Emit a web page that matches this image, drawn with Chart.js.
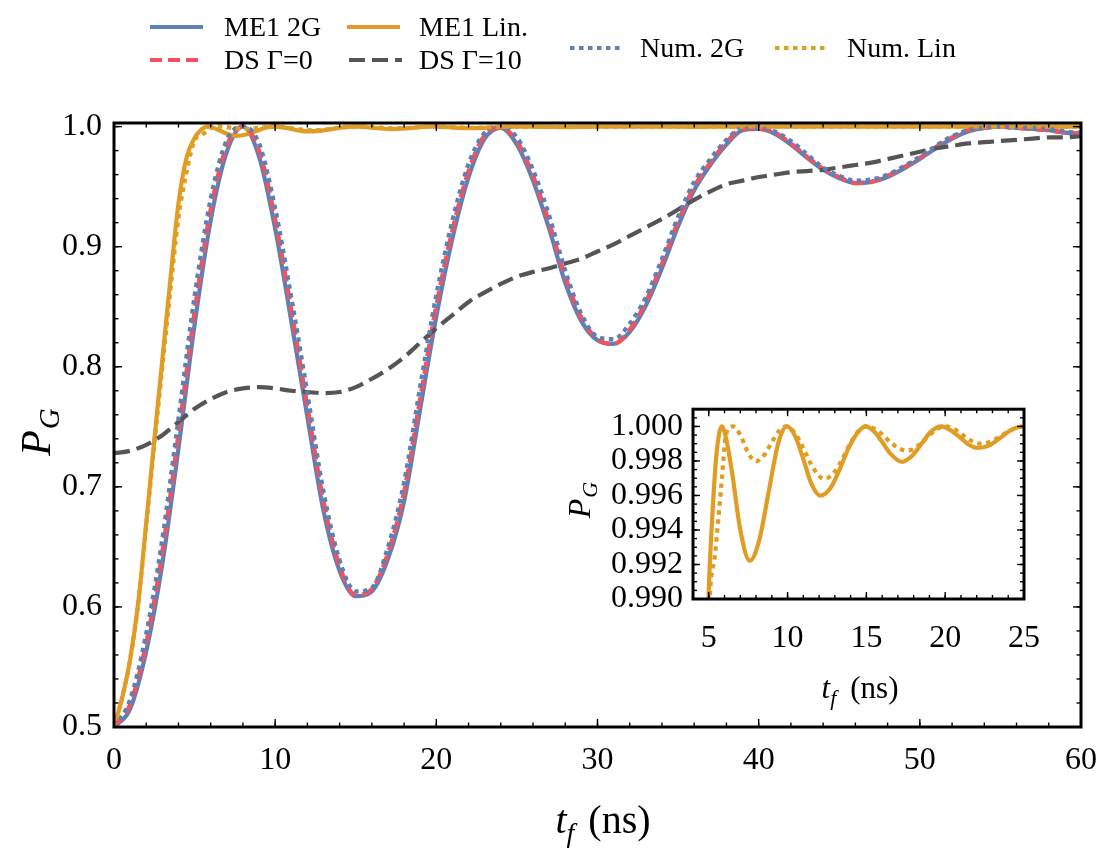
<!DOCTYPE html>
<html>
<head>
<meta charset="utf-8">
<script src="https://cdn.jsdelivr.net/npm/chart.js@4.4.1/dist/chart.umd.min.js"></script>
<style>
  html, body { margin: 0; padding: 0; background: #fff; }
  #wrap { position: relative; width: 1111px; height: 850px; }
  #main { position: absolute; left: 0; top: 0; }
  #inset { position: absolute; left: 560px; top: 380px; }
</style>
</head>
<body>
<div id="wrap">
  <canvas id="main" width="1111" height="850"></canvas>
  <canvas id="inset" width="500" height="340"></canvas>
</div>
<script>
// t_f (ns) sample points for the two-level / DS curves
const tMain = [0,1,2,3,4,5,6,7,8,9,10,11,12,13,14,15,16,17,18,19,20,21,22,23,24,25,26,27,28,29,30,
  31,32,33,34,35,36,37,38,39,40,41,42,43,44,45,46,47,48,49,50,51,52,53,54,55,56,57,58,59,60];

const me1TwoLevel = [0.500,0.515,0.563,0.636,0.732,0.835,0.922,0.979,1.000,0.975,
  0.915,0.838,0.758,0.680,0.630,0.609,0.613,0.640,0.688,0.765,
  0.842,0.907,0.958,0.990,0.999,0.985,0.955,0.915,0.870,0.838,
  0.822,0.819,0.829,0.851,0.882,0.917,0.947,0.968,0.985,0.997,
  0.998,0.994,0.985,0.974,0.964,0.957,0.953,0.954,0.958,0.965,
  0.973,0.982,0.990,0.996,0.999,1.000,0.999,0.998,0.997,0.995,0.994];

const dsGamma0 = [0.500,0.519,0.570,0.646,0.744,0.846,0.931,0.984,1.000,0.980,
  0.923,0.847,0.767,0.688,0.634,0.610,0.615,0.645,0.696,0.774,
  0.851,0.914,0.963,0.993,0.999,0.988,0.959,0.920,0.875,0.841,
  0.823,0.819,0.831,0.854,0.886,0.921,0.950,0.970,0.987,0.998,
  0.998,0.995,0.986,0.975,0.965,0.958,0.953,0.954,0.959,0.966,
  0.974,0.983,0.991,0.997,0.999,1.000,0.999,0.998,0.997,0.995,0.994];

const dsGamma10 = [0.728,0.730,0.735,0.743,0.754,0.765,0.773,0.779,0.782,0.783,
  0.782,0.780,0.779,0.778,0.779,0.783,0.790,0.798,0.808,0.820,
  0.832,0.843,0.854,0.862,0.869,0.875,0.879,0.882,0.886,0.890,
  0.896,0.902,0.909,0.916,0.923,0.931,0.939,0.946,0.952,0.955,
  0.958,0.960,0.962,0.963,0.964,0.966,0.968,0.970,0.973,0.976,
  0.979,0.982,0.984,0.986,0.987,0.988,0.989,0.990,0.991,0.991,0.992];

const numTwoLevel = [0.500,0.523,0.578,0.657,0.757,0.859,0.940,0.989,1.000,0.986,
  0.932,0.858,0.778,0.696,0.639,0.613,0.616,0.650,0.704,0.784,
  0.860,0.922,0.969,0.995,1.000,0.991,0.964,0.926,0.880,0.844,
  0.825,0.823,0.836,0.858,0.890,0.925,0.954,0.973,0.989,0.999,
  0.999,0.996,0.988,0.977,0.966,0.959,0.955,0.956,0.960,0.967,
  0.975,0.984,0.992,0.997,0.999,1.000,0.999,0.999,0.998,0.996,0.995];

// linear-ramp curves have their own (finer) sampling
const tLin = [0,0.5,1,1.5,2,2.5,3,3.5,4,4.5,5,5.25,5.5,5.83,6.1,6.5,7,7.6,8.2,8.8,
  9.4,9.96,10.5,11,11.5,12.08,12.7,13.3,13.9,14.5,14.96,15.5,16,16.5,17.25,17.9,18.5,19.1,19.75,20.3,
  20.9,21.5,22.1,22.8,23.5,24.2,25,26,27,28,29,30,32,34,36,38,40,42,44,46,48,50,52,54,56,58,60];
const me1Linear = [0.500,0.524,0.556,0.603,0.670,0.739,0.806,0.873,0.936,0.974,
  0.9905,0.9952,0.9985,1.0000,0.9993,0.9972,0.9940,0.99222,0.9934,0.9962,
  0.9990,1.0000,0.9994,0.9981,0.9967,0.99599,0.9964,0.9975,0.9988,0.9997,
  1.0000,0.9997,0.9991,0.99845,0.99795,0.9983,0.9990,0.9997,1.0000,0.9998,
  0.9994,0.99894,0.99875,0.9989,0.99934,0.9998,1.0000,0.9999,0.9997,0.9996,
  0.9997,0.9999,1.0000,0.9999,0.9998,0.9999,1.0000,1.0000,0.9999,0.9999,
  1.0000,1.0000,1.0000,0.9999,1.0000,1.0000,1.0000];

const tNumLin = [0,0.5,1,1.5,2,2.5,3,3.5,4,4.5,5,5.4,5.8,6.1,6.52,7,7.5,7.98,8.5,9,
  9.5,9.9,10.5,11,11.5,12,12.36,13,13.5,14,14.5,15,15.5,16,16.5,17,17.56,18,18.5,19,
  19.5,20,20.5,21,21.5,22.25,23,23.5,24,24.5,25,26,27,28,30,32,34,36,38,40,44,48,52,56,60];
const numLinear = [0.500,0.524,0.556,0.603,0.668,0.735,0.800,0.864,0.924,0.962,
  0.9885,0.9926,0.9966,0.99955,1.0000,0.99951,0.99847,0.99798,0.99832,0.99909,
  0.99979,1.0000,0.99958,0.99873,0.99780,0.99713,0.99697,0.99739,0.99816,0.99905,
  0.99974,1.0000,0.99987,0.99954,0.99911,0.99876,0.99860,0.99871,0.99905,0.99950,
  0.99986,1.0000,0.99988,0.99959,0.99925,0.99900,0.99917,0.99943,0.99971,0.99992,
  1.0000,0.9999,0.9998,0.9998,0.9999,1.0000,1.0000,1.0000,1.0000,1.0000,
  1.0000,1.0000,1.0000,1.0000,1.0000];

const seriesNames = ['ME1 2G', 'ME1 Lin.', 'DS Γ=0', 'DS Γ=10', 'Num. 2G', 'Num. Lin'];

const mainXTicks = [0, 10, 20, 30, 40, 50, 60];
const mainYTicks = [0.5, 0.6, 0.7, 0.8, 0.9, 1.0];
const insetXTicks = [5, 10, 15, 20, 25];
const insetYTicks = [0.990, 0.992, 0.994, 0.996, 0.998, 1.000];

const BLUE = '#5e81b5', ORANGE = '#e19c24', RED = '#f9515a', GRAY = '#555555';
const FONT = '"Liberation Serif", "DejaVu Serif", serif';
const LW = 4.2;

const pts = (ts, ps) => ts.map((t, i) => ({ x: t, y: ps[i] }));

const line = (label, data, color, dash, order) => ({
  label, data,
  borderColor: color, borderDash: dash, borderWidth: LW, borderCapStyle: 'butt',
  pointRadius: 0, fill: false, cubicInterpolationMode: 'monotone', order, clip: 0
});

// frame with inward major/minor ticks on all four sides (Mathematica style)
const framePlugin = (cfg) => ({
  id: 'frame',
  afterDraw(chart) {
    const { ctx, chartArea: a, scales: { x, y } } = chart;
    ctx.save();
    ctx.strokeStyle = '#000';
    ctx.lineWidth = 1.4;
    const seg = (x1, y1, x2, y2) => { ctx.beginPath(); ctx.moveTo(x1, y1); ctx.lineTo(x2, y2); ctx.stroke(); };
    const steps = (s, step) => {
      const out = [];
      for (let k = Math.ceil(s.min / step - 1e-6); k * step <= s.max + 1e-9; k++) out.push(k * step);
      return out;
    };
    steps(x, cfg.xMinor).forEach(v => {
      const px = x.getPixelForValue(v);
      seg(px, a.bottom, px, a.bottom - cfg.minor);
      seg(px, a.top, px, a.top + cfg.minor);
    });
    steps(y, cfg.yMinor).forEach(v => {
      const py = y.getPixelForValue(v);
      seg(a.left, py, a.left + cfg.minor, py);
      seg(a.right, py, a.right - cfg.minor, py);
    });
    x.ticks.forEach(t => {
      const px = x.getPixelForValue(t.value);
      seg(px, a.bottom, px, a.bottom - cfg.major);
      seg(px, a.top, px, a.top + cfg.major);
    });
    y.ticks.forEach(t => {
      const py = y.getPixelForValue(t.value);
      seg(a.left, py, a.left + cfg.major, py);
      seg(a.right, py, a.right - cfg.major, py);
    });
    ctx.lineWidth = 3;
    ctx.strokeRect(a.left, a.top, a.right - a.left, a.bottom - a.top);
    ctx.restore();
  }
});

// text with italic symbol + subscript, e.g. P_G or t_f (ns)
function mathText(ctx, parts, cx, cy, size, rot) {
  ctx.save();
  ctx.translate(cx, cy);
  ctx.rotate(rot || 0);
  ctx.fillStyle = '#000';
  ctx.textBaseline = 'alphabetic';
  const fontOf = p => `${p.italic ? 'italic ' : ''}${p.sub ? Math.round(size * 0.7) : size}px ${FONT}`;
  let w = 0;
  parts.forEach(p => { ctx.font = fontOf(p); w += ctx.measureText(p.text).width + (p.gap || 0); });
  let px = -w / 2;
  parts.forEach(p => {
    ctx.font = fontOf(p);
    ctx.fillText(p.text, px, size * 0.33 + (p.sub ? size * 0.22 : 0));
    px += ctx.measureText(p.text).width + (p.gap || 0);
  });
  ctx.restore();
}

const tfLabel = [{ text: 't', italic: true }, { text: 'f', italic: true, sub: true, gap: 14 }, { text: '(ns)' }];
const pgLabel = [{ text: 'P', italic: true, gap: 1 }, { text: 'G', italic: true, sub: true }];

// legend slots: sample start x, row y, text x (same order as seriesNames)
const legendSlots = [
  { x: 150, y: 27, tx: 224 },
  { x: 347, y: 27, tx: 419 },
  { x: 150, y: 60, tx: 224 },
  { x: 349, y: 60, tx: 419 },
  { x: 570, y: 48, tx: 640 },
  { x: 775, y: 48, tx: 847 }
];

const mainDecor = {
  id: 'mainDecor',
  afterDraw(chart) {
    const { ctx } = chart;
    mathText(ctx, tfLabel, 603, 820, 40, 0);
    mathText(ctx, pgLabel, 36, 432, 42, -Math.PI / 2);
    ctx.save();
    chart.data.datasets.forEach((ds, i) => {
      const s = legendSlots[i];
      ctx.strokeStyle = ds.borderColor;
      ctx.lineWidth = LW;
      ctx.lineCap = 'butt';
      ctx.setLineDash(ds.borderDash);
      ctx.beginPath();
      ctx.moveTo(s.x, s.y);
      ctx.lineTo(s.x + 53, s.y);
      ctx.stroke();
      ctx.setLineDash([]);
      ctx.fillStyle = '#000';
      ctx.font = `28px ${FONT}`;
      ctx.textBaseline = 'middle';
      ctx.fillText(ds.label, s.tx, s.y + 2);
    });
    ctx.restore();
  }
};

const insetDecor = {
  id: 'insetDecor',
  afterDraw(chart) {
    const { ctx } = chart;
    mathText(ctx, tfLabel, 300, 308, 31, 0);
    mathText(ctx, pgLabel, 19, 120, 32, -Math.PI / 2);
  }
};

const tickFont = { family: FONT, size: 32 };

const scale = (min, max, tickVals, fmt, fit, pad) => ({
  type: 'linear', min, max,
  afterBuildTicks: s => { s.ticks = tickVals.map(v => ({ value: v })); },
  afterFit: fit,
  grid: { display: false, drawTicks: false },
  border: { display: false },
  ticks: { font: tickFont, color: '#000', padding: pad, autoSkip: false, maxRotation: 0, callback: fmt }
});

new Chart(document.getElementById('main'), {
  type: 'line',
  data: {
    datasets: [
      line(seriesNames[0], pts(tMain, me1TwoLevel), BLUE, [], 6),
      line(seriesNames[1], pts(tLin, me1Linear), ORANGE, [], 5),
      line(seriesNames[2], pts(tMain, dsGamma0), RED, [12, 6], 4),
      line(seriesNames[3], pts(tMain, dsGamma10), GRAY, [16, 7], 3),
      line(seriesNames[4], pts(tMain, numTwoLevel), BLUE, [4.5, 4.5], 2),
      line(seriesNames[5], pts(tNumLin, numLinear), ORANGE, [4.5, 4.5], 1)
    ]
  },
  options: {
    responsive: false,
    animation: false,
    devicePixelRatio: 1,
    layout: { padding: { top: 123, right: 18, left: 0, bottom: 0 } },
    plugins: { legend: { display: false }, tooltip: { enabled: false } },
    scales: {
      x: scale(0, 60, mainXTicks, v => String(v), s => { s.height = 123; }, 14),
      y: scale(0.5, 1.003, mainYTicks, v => v.toFixed(1), s => { s.width = 114; }, 12)
    }
  },
  plugins: [framePlugin({ xMinor: 2, yMinor: 0.02, major: 8, minor: 4.5 }), mainDecor]
});

new Chart(document.getElementById('inset'), {
  type: 'line',
  data: {
    datasets: [
      line(seriesNames[1], pts(tLin, me1Linear), ORANGE, [], 2),
      line(seriesNames[5], pts(tNumLin, numLinear), ORANGE, [4.5, 4.5], 1)
    ]
  },
  options: {
    responsive: false,
    animation: false,
    devicePixelRatio: 1,
    layout: { padding: { top: 14, right: 32, left: 0, bottom: 0 } },
    plugins: { legend: { display: false }, tooltip: { enabled: false } },
    scales: {
      x: scale(4, 25, insetXTicks, v => String(v), s => { s.height = 121; }, 20),
      y: scale(0.990, 1.001, insetYTicks, v => v.toFixed(3), s => { s.width = 133; }, 10)
    }
  },
  plugins: [framePlugin({ xMinor: 1, yMinor: 0.0005, major: 7, minor: 4 }), insetDecor]
});
</script>
</body>
</html>
